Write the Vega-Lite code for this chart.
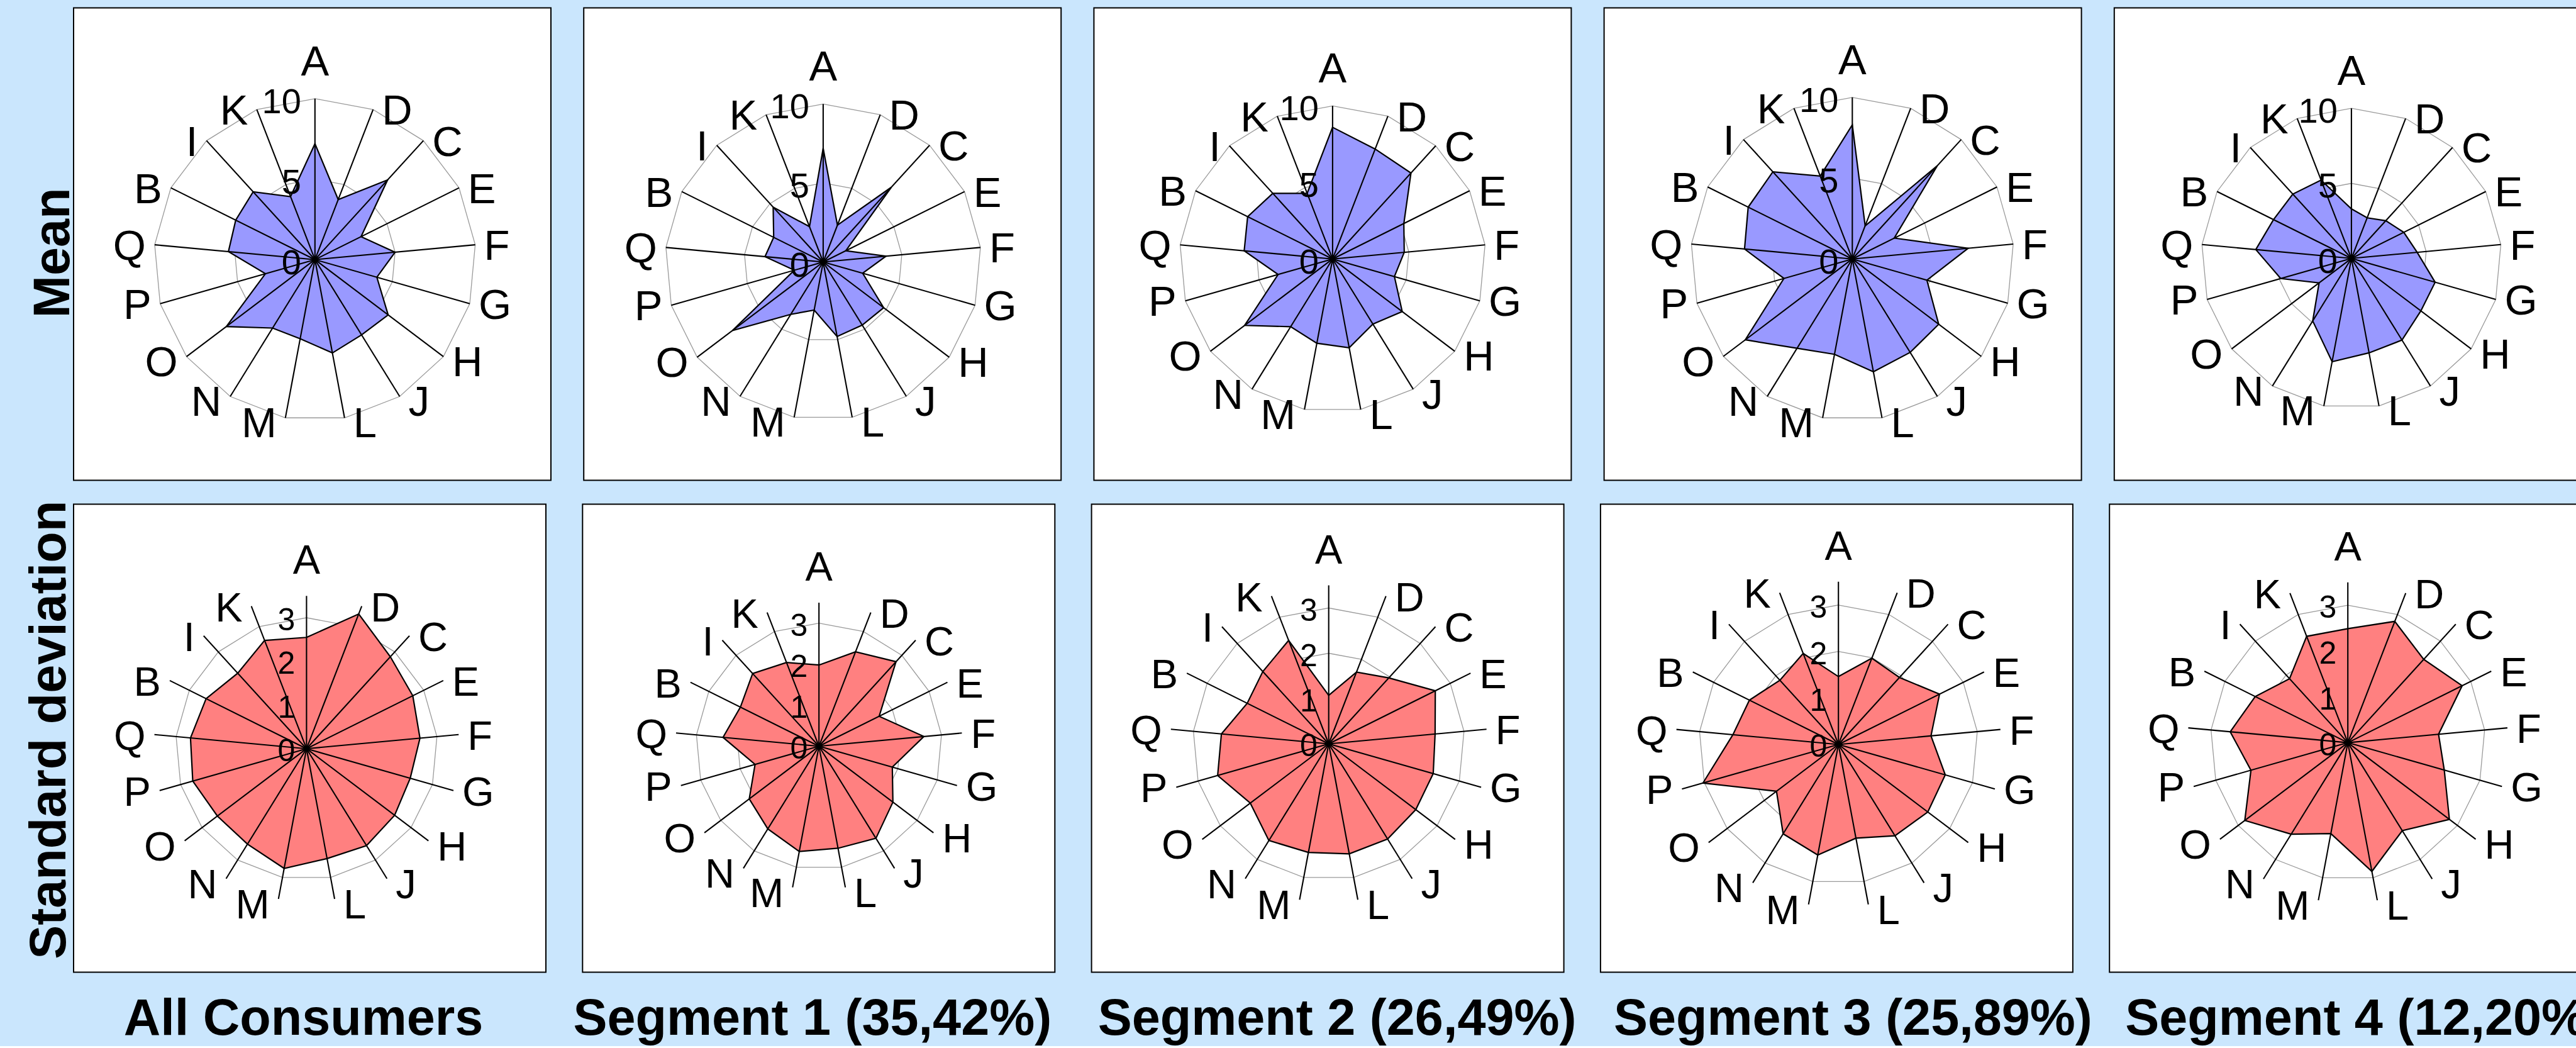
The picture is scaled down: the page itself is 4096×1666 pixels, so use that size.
{
  "$schema": "https://vega.github.io/schema/vega-lite/v6.json",
  "background": "#CAE6FD",
  "padding": {"left": 38, "top": 11.5, "right": 0, "bottom": 0},
  "datasets": {
    "spokes": [
      {"axis": "A", "i": 0}, {"axis": "D", "i": 1}, {"axis": "C", "i": 2}, {"axis": "E", "i": 3},
      {"axis": "F", "i": 4}, {"axis": "G", "i": 5}, {"axis": "H", "i": 6}, {"axis": "J", "i": 7},
      {"axis": "L", "i": 8}, {"axis": "M", "i": 9}, {"axis": "N", "i": 10}, {"axis": "O", "i": 11},
      {"axis": "P", "i": 12}, {"axis": "Q", "i": 13}, {"axis": "B", "i": 14}, {"axis": "I", "i": 15},
      {"axis": "K", "i": 16}
    ],
    "meanTicks": [{"tick": 0}, {"tick": 5}, {"tick": 10}],
    "sdTicks": [{"tick": 0}, {"tick": 1}, {"tick": 2}, {"tick": 3}],
    "scores": [
      {"group": "All Consumers", "axis": "A", "mean": 7.2, "sd": 2.55},
      {"group": "All Consumers", "axis": "D", "mean": 4.0, "sd": 3.31},
      {"group": "All Consumers", "axis": "C", "mean": 6.7, "sd": 2.85},
      {"group": "All Consumers", "axis": "E", "mean": 3.2, "sd": 2.72},
      {"group": "All Consumers", "axis": "F", "mean": 5.0, "sd": 2.61},
      {"group": "All Consumers", "axis": "G", "mean": 4.0, "sd": 2.47},
      {"group": "All Consumers", "axis": "H", "mean": 5.7, "sd": 2.53},
      {"group": "All Consumers", "axis": "J", "mean": 5.5, "sd": 2.61},
      {"group": "All Consumers", "axis": "L", "mean": 5.9, "sd": 2.56},
      {"group": "All Consumers", "axis": "M", "mean": 5.0, "sd": 2.79},
      {"group": "All Consumers", "axis": "N", "mean": 5.0, "sd": 2.57},
      {"group": "All Consumers", "axis": "O", "mean": 6.9, "sd": 2.56},
      {"group": "All Consumers", "axis": "P", "mean": 3.2, "sd": 2.71},
      {"group": "All Consumers", "axis": "Q", "mean": 5.4, "sd": 2.67},
      {"group": "All Consumers", "axis": "B", "mean": 5.5, "sd": 2.57},
      {"group": "All Consumers", "axis": "I", "mean": 5.7, "sd": 2.34},
      {"group": "All Consumers", "axis": "K", "mean": 4.2, "sd": 2.66},
      {"group": "Segment 1", "axis": "A", "mean": 7.2, "sd": 1.98},
      {"group": "Segment 1", "axis": "D", "mean": 2.5, "sd": 2.47},
      {"group": "Segment 1", "axis": "C", "mean": 6.4, "sd": 2.79},
      {"group": "Segment 1", "axis": "E", "mean": 1.6, "sd": 1.64},
      {"group": "Segment 1", "axis": "F", "mean": 4.0, "sd": 2.57},
      {"group": "Segment 1", "axis": "G", "mean": 2.6, "sd": 1.86},
      {"group": "Segment 1", "axis": "H", "mean": 4.8, "sd": 2.26},
      {"group": "Segment 1", "axis": "J", "mean": 4.7, "sd": 2.64},
      {"group": "Segment 1", "axis": "L", "mean": 4.8, "sd": 2.53},
      {"group": "Segment 1", "axis": "M", "mean": 3.1, "sd": 2.61},
      {"group": "Segment 1", "axis": "N", "mean": 3.9, "sd": 2.37},
      {"group": "Segment 1", "axis": "O", "mean": 7.2, "sd": 2.13},
      {"group": "Segment 1", "axis": "P", "mean": 1.9, "sd": 1.62},
      {"group": "Segment 1", "axis": "Q", "mean": 3.7, "sd": 2.35},
      {"group": "Segment 1", "axis": "B", "mean": 3.5, "sd": 2.14},
      {"group": "Segment 1", "axis": "I", "mean": 4.7, "sd": 2.40},
      {"group": "Segment 1", "axis": "K", "mean": 2.4, "sd": 2.19},
      {"group": "Segment 2", "axis": "A", "mean": 8.6, "sd": 1.07},
      {"group": "Segment 2", "axis": "D", "mean": 7.7, "sd": 1.70},
      {"group": "Segment 2", "axis": "C", "mean": 7.6, "sd": 1.97},
      {"group": "Segment 2", "axis": "E", "mean": 5.2, "sd": 2.63},
      {"group": "Segment 2", "axis": "F", "mean": 4.7, "sd": 2.36},
      {"group": "Segment 2", "axis": "G", "mean": 4.2, "sd": 2.40},
      {"group": "Segment 2", "axis": "H", "mean": 5.7, "sd": 2.41},
      {"group": "Segment 2", "axis": "J", "mean": 5.0, "sd": 2.47},
      {"group": "Segment 2", "axis": "L", "mean": 5.9, "sd": 2.47},
      {"group": "Segment 2", "axis": "M", "mean": 5.6, "sd": 2.44},
      {"group": "Segment 2", "axis": "N", "mean": 5.2, "sd": 2.51},
      {"group": "Segment 2", "axis": "O", "mean": 7.2, "sd": 2.17},
      {"group": "Segment 2", "axis": "P", "mean": 3.7, "sd": 2.55},
      {"group": "Segment 2", "axis": "Q", "mean": 5.8, "sd": 2.38},
      {"group": "Segment 2", "axis": "B", "mean": 6.2, "sd": 2.01},
      {"group": "Segment 2", "axis": "I", "mean": 5.8, "sd": 2.16},
      {"group": "Segment 2", "axis": "K", "mean": 4.6, "sd": 2.45},
      {"group": "Segment 3", "axis": "A", "mean": 8.3, "sd": 1.46},
      {"group": "Segment 3", "axis": "D", "mean": 2.2, "sd": 1.99},
      {"group": "Segment 3", "axis": "C", "mean": 7.8, "sd": 1.95},
      {"group": "Segment 3", "axis": "E", "mean": 2.9, "sd": 2.43},
      {"group": "Segment 3", "axis": "F", "mean": 7.2, "sd": 2.00},
      {"group": "Segment 3", "axis": "G", "mean": 4.8, "sd": 2.39},
      {"group": "Segment 3", "axis": "H", "mean": 6.7, "sd": 2.41},
      {"group": "Segment 3", "axis": "J", "mean": 6.8, "sd": 2.31},
      {"group": "Segment 3", "axis": "L", "mean": 7.1, "sd": 2.05},
      {"group": "Segment 3", "axis": "M", "mean": 6.0, "sd": 2.42},
      {"group": "Segment 3", "axis": "N", "mean": 6.5, "sd": 2.26},
      {"group": "Segment 3", "axis": "O", "mean": 8.3, "sd": 1.67},
      {"group": "Segment 3", "axis": "P", "mean": 4.4, "sd": 3.03},
      {"group": "Segment 3", "axis": "Q", "mean": 6.7, "sd": 2.28},
      {"group": "Segment 3", "axis": "B", "mean": 7.2, "sd": 2.14},
      {"group": "Segment 3", "axis": "I", "mean": 7.3, "sd": 1.87},
      {"group": "Segment 3", "axis": "K", "mean": 5.5, "sd": 2.10},
      {"group": "Segment 4", "axis": "A", "mean": 3.3, "sd": 2.49},
      {"group": "Segment 4", "axis": "D", "mean": 2.9, "sd": 2.84},
      {"group": "Segment 4", "axis": "C", "mean": 3.4, "sd": 2.46},
      {"group": "Segment 4", "axis": "E", "mean": 3.9, "sd": 2.79},
      {"group": "Segment 4", "axis": "F", "mean": 4.4, "sd": 1.99},
      {"group": "Segment 4", "axis": "G", "mean": 5.8, "sd": 2.19},
      {"group": "Segment 4", "axis": "H", "mean": 5.8, "sd": 2.78},
      {"group": "Segment 4", "axis": "J", "mean": 6.4, "sd": 2.26},
      {"group": "Segment 4", "axis": "L", "mean": 6.4, "sd": 2.86},
      {"group": "Segment 4", "axis": "M", "mean": 7.0, "sd": 2.02},
      {"group": "Segment 4", "axis": "N", "mean": 4.9, "sd": 2.35},
      {"group": "Segment 4", "axis": "O", "mean": 2.7, "sd": 2.82},
      {"group": "Segment 4", "axis": "P", "mean": 4.9, "sd": 2.20},
      {"group": "Segment 4", "axis": "Q", "mean": 6.4, "sd": 2.58},
      {"group": "Segment 4", "axis": "B", "mean": 5.8, "sd": 2.26},
      {"group": "Segment 4", "axis": "I", "mean": 5.8, "sd": 1.89},
      {"group": "Segment 4", "axis": "K", "mean": 5.6, "sd": 2.49}
    ]
  },
  "bounds": "full",
  "spacing": 31,
  "vconcat": [
    {
      "title": {"text": "Mean", "orient": "left", "anchor": "middle", "offset": -11, "dx": -14},
      "bounds": "flush",
      "spacing": 52.2,
      "hconcat": [
        {
          "width": 759, "height": 751,
          "encoding": {
            "x": {"field": "x", "type": "quantitative", "scale": {"domain": [-14.998, 14.662], "nice": false, "zero": false}, "axis": null},
            "y": {"field": "y", "type": "quantitative", "scale": {"domain": [-13.709, 15.639], "nice": false, "zero": false}, "axis": null}
          },
          "layer": [
            {"data": {"name": "spokes"}, "transform": [{"calculate": "5*sin(2*PI*datum.i/17)", "as": "x"}, {"calculate": "5*cos(2*PI*datum.i/17)", "as": "y"}], "mark": {"type": "line", "interpolate": "linear-closed", "stroke": "#9a9a9a", "strokeWidth": 1.3}, "encoding": {"order": {"field": "i", "type": "quantitative"}}},
            {"data": {"name": "spokes"}, "transform": [{"calculate": "10*sin(2*PI*datum.i/17)", "as": "x"}, {"calculate": "10*cos(2*PI*datum.i/17)", "as": "y"}], "mark": {"type": "line", "interpolate": "linear-closed", "stroke": "#9a9a9a", "strokeWidth": 1.3}, "encoding": {"order": {"field": "i", "type": "quantitative"}}},
            {"data": {"name": "scores"}, "transform": [{"filter": "datum.group === 'All Consumers'"}, {"lookup": "axis", "from": {"data": {"name": "spokes"}, "key": "axis", "fields": ["i"]}}, {"calculate": "datum.mean*sin(2*PI*datum.i/17)", "as": "x"}, {"calculate": "datum.mean*cos(2*PI*datum.i/17)", "as": "y"}], "mark": {"type": "line", "interpolate": "linear-closed", "fill": "#9999ff", "stroke": "black", "strokeWidth": 2.2}, "encoding": {"order": {"field": "i", "type": "quantitative"}}},
            {"data": {"name": "spokes"}, "transform": [{"calculate": "10*sin(2*PI*datum.i/17)", "as": "x"}, {"calculate": "10*cos(2*PI*datum.i/17)", "as": "y"}], "mark": {"type": "rule", "stroke": "black", "strokeWidth": 2.1}, "encoding": {"x2": {"datum": 0}, "y2": {"datum": 0}}},
            {"data": {"name": "spokes"}, "transform": [{"calculate": "10*sin(2*PI*datum.i/17)", "as": "x"}, {"calculate": "10*cos(2*PI*datum.i/17)", "as": "y"}], "mark": {"type": "text", "fontSize": 67, "align": {"expr": "datum.i == 0 ? 'center' : datum.i <= 8 ? 'left' : 'right'"}, "baseline": {"expr": "datum.i == 0 ? 'alphabetic' : 'middle'"}, "dx": {"expr": "datum.i == 0 ? 0 : datum.i <= 8 ? 14 : -14"}, "dy": {"expr": "datum.i == 0 ? -37 : (datum.i >= 6 && datum.i <= 11) ? 11 : 4"}}, "encoding": {"text": {"field": "axis", "type": "nominal"}}},
            {"data": {"name": "meanTicks"}, "transform": [{"calculate": "0", "as": "x"}, {"calculate": "datum.tick", "as": "y"}], "mark": {"type": "text", "fontSize": 56, "align": "right", "baseline": "middle", "dx": -22, "dy": 6}, "encoding": {"text": {"field": "tick", "type": "nominal"}}}
          ]
        },
        {
          "width": 759, "height": 751,
          "encoding": {
            "x": {"field": "x", "type": "quantitative", "scale": {"domain": [-15.161, 15.066], "nice": false, "zero": false}, "axis": null},
            "y": {"field": "y", "type": "quantitative", "scale": {"domain": [-13.819, 16.089], "nice": false, "zero": false}, "axis": null}
          },
          "layer": [
            {"data": {"name": "spokes"}, "transform": [{"calculate": "5*sin(2*PI*datum.i/17)", "as": "x"}, {"calculate": "5*cos(2*PI*datum.i/17)", "as": "y"}], "mark": {"type": "line", "interpolate": "linear-closed", "stroke": "#9a9a9a", "strokeWidth": 1.3}, "encoding": {"order": {"field": "i", "type": "quantitative"}}},
            {"data": {"name": "spokes"}, "transform": [{"calculate": "10*sin(2*PI*datum.i/17)", "as": "x"}, {"calculate": "10*cos(2*PI*datum.i/17)", "as": "y"}], "mark": {"type": "line", "interpolate": "linear-closed", "stroke": "#9a9a9a", "strokeWidth": 1.3}, "encoding": {"order": {"field": "i", "type": "quantitative"}}},
            {"data": {"name": "scores"}, "transform": [{"filter": "datum.group === 'Segment 1'"}, {"lookup": "axis", "from": {"data": {"name": "spokes"}, "key": "axis", "fields": ["i"]}}, {"calculate": "datum.mean*sin(2*PI*datum.i/17)", "as": "x"}, {"calculate": "datum.mean*cos(2*PI*datum.i/17)", "as": "y"}], "mark": {"type": "line", "interpolate": "linear-closed", "fill": "#9999ff", "stroke": "black", "strokeWidth": 2.2}, "encoding": {"order": {"field": "i", "type": "quantitative"}}},
            {"data": {"name": "spokes"}, "transform": [{"calculate": "10*sin(2*PI*datum.i/17)", "as": "x"}, {"calculate": "10*cos(2*PI*datum.i/17)", "as": "y"}], "mark": {"type": "rule", "stroke": "black", "strokeWidth": 2.1}, "encoding": {"x2": {"datum": 0}, "y2": {"datum": 0}}},
            {"data": {"name": "spokes"}, "transform": [{"calculate": "10*sin(2*PI*datum.i/17)", "as": "x"}, {"calculate": "10*cos(2*PI*datum.i/17)", "as": "y"}], "mark": {"type": "text", "fontSize": 67, "align": {"expr": "datum.i == 0 ? 'center' : datum.i <= 8 ? 'left' : 'right'"}, "baseline": {"expr": "datum.i == 0 ? 'alphabetic' : 'middle'"}, "dx": {"expr": "datum.i == 0 ? 0 : datum.i <= 8 ? 14 : -14"}, "dy": {"expr": "datum.i == 0 ? -37 : (datum.i >= 6 && datum.i <= 11) ? 11 : 4"}}, "encoding": {"text": {"field": "axis", "type": "nominal"}}},
            {"data": {"name": "meanTicks"}, "transform": [{"calculate": "0", "as": "x"}, {"calculate": "datum.tick", "as": "y"}], "mark": {"type": "text", "fontSize": 56, "align": "right", "baseline": "middle", "dx": -22, "dy": 6}, "encoding": {"text": {"field": "tick", "type": "nominal"}}}
          ]
        },
        {
          "width": 759, "height": 751,
          "encoding": {
            "x": {"field": "x", "type": "quantitative", "scale": {"domain": [-15.592, 15.592], "nice": false, "zero": false}, "axis": null},
            "y": {"field": "y", "type": "quantitative", "scale": {"domain": [-14.454, 16.401], "nice": false, "zero": false}, "axis": null}
          },
          "layer": [
            {"data": {"name": "spokes"}, "transform": [{"calculate": "5*sin(2*PI*datum.i/17)", "as": "x"}, {"calculate": "5*cos(2*PI*datum.i/17)", "as": "y"}], "mark": {"type": "line", "interpolate": "linear-closed", "stroke": "#9a9a9a", "strokeWidth": 1.3}, "encoding": {"order": {"field": "i", "type": "quantitative"}}},
            {"data": {"name": "spokes"}, "transform": [{"calculate": "10*sin(2*PI*datum.i/17)", "as": "x"}, {"calculate": "10*cos(2*PI*datum.i/17)", "as": "y"}], "mark": {"type": "line", "interpolate": "linear-closed", "stroke": "#9a9a9a", "strokeWidth": 1.3}, "encoding": {"order": {"field": "i", "type": "quantitative"}}},
            {"data": {"name": "scores"}, "transform": [{"filter": "datum.group === 'Segment 2'"}, {"lookup": "axis", "from": {"data": {"name": "spokes"}, "key": "axis", "fields": ["i"]}}, {"calculate": "datum.mean*sin(2*PI*datum.i/17)", "as": "x"}, {"calculate": "datum.mean*cos(2*PI*datum.i/17)", "as": "y"}], "mark": {"type": "line", "interpolate": "linear-closed", "fill": "#9999ff", "stroke": "black", "strokeWidth": 2.2}, "encoding": {"order": {"field": "i", "type": "quantitative"}}},
            {"data": {"name": "spokes"}, "transform": [{"calculate": "10*sin(2*PI*datum.i/17)", "as": "x"}, {"calculate": "10*cos(2*PI*datum.i/17)", "as": "y"}], "mark": {"type": "rule", "stroke": "black", "strokeWidth": 2.1}, "encoding": {"x2": {"datum": 0}, "y2": {"datum": 0}}},
            {"data": {"name": "spokes"}, "transform": [{"calculate": "10*sin(2*PI*datum.i/17)", "as": "x"}, {"calculate": "10*cos(2*PI*datum.i/17)", "as": "y"}], "mark": {"type": "text", "fontSize": 67, "align": {"expr": "datum.i == 0 ? 'center' : datum.i <= 8 ? 'left' : 'right'"}, "baseline": {"expr": "datum.i == 0 ? 'alphabetic' : 'middle'"}, "dx": {"expr": "datum.i == 0 ? 0 : datum.i <= 8 ? 14 : -14"}, "dy": {"expr": "datum.i == 0 ? -37 : (datum.i >= 6 && datum.i <= 11) ? 11 : 4"}}, "encoding": {"text": {"field": "axis", "type": "nominal"}}},
            {"data": {"name": "meanTicks"}, "transform": [{"calculate": "0", "as": "x"}, {"calculate": "datum.tick", "as": "y"}], "mark": {"type": "text", "fontSize": 56, "align": "right", "baseline": "middle", "dx": -22, "dy": 6}, "encoding": {"text": {"field": "tick", "type": "nominal"}}}
          ]
        },
        {
          "width": 759, "height": 751,
          "encoding": {
            "x": {"field": "x", "type": "quantitative", "scale": {"domain": [-15.364, 14.181], "nice": false, "zero": false}, "axis": null},
            "y": {"field": "y", "type": "quantitative", "scale": {"domain": [-13.694, 15.539], "nice": false, "zero": false}, "axis": null}
          },
          "layer": [
            {"data": {"name": "spokes"}, "transform": [{"calculate": "5*sin(2*PI*datum.i/17)", "as": "x"}, {"calculate": "5*cos(2*PI*datum.i/17)", "as": "y"}], "mark": {"type": "line", "interpolate": "linear-closed", "stroke": "#9a9a9a", "strokeWidth": 1.3}, "encoding": {"order": {"field": "i", "type": "quantitative"}}},
            {"data": {"name": "spokes"}, "transform": [{"calculate": "10*sin(2*PI*datum.i/17)", "as": "x"}, {"calculate": "10*cos(2*PI*datum.i/17)", "as": "y"}], "mark": {"type": "line", "interpolate": "linear-closed", "stroke": "#9a9a9a", "strokeWidth": 1.3}, "encoding": {"order": {"field": "i", "type": "quantitative"}}},
            {"data": {"name": "scores"}, "transform": [{"filter": "datum.group === 'Segment 3'"}, {"lookup": "axis", "from": {"data": {"name": "spokes"}, "key": "axis", "fields": ["i"]}}, {"calculate": "datum.mean*sin(2*PI*datum.i/17)", "as": "x"}, {"calculate": "datum.mean*cos(2*PI*datum.i/17)", "as": "y"}], "mark": {"type": "line", "interpolate": "linear-closed", "fill": "#9999ff", "stroke": "black", "strokeWidth": 2.2}, "encoding": {"order": {"field": "i", "type": "quantitative"}}},
            {"data": {"name": "spokes"}, "transform": [{"calculate": "10*sin(2*PI*datum.i/17)", "as": "x"}, {"calculate": "10*cos(2*PI*datum.i/17)", "as": "y"}], "mark": {"type": "rule", "stroke": "black", "strokeWidth": 2.1}, "encoding": {"x2": {"datum": 0}, "y2": {"datum": 0}}},
            {"data": {"name": "spokes"}, "transform": [{"calculate": "10*sin(2*PI*datum.i/17)", "as": "x"}, {"calculate": "10*cos(2*PI*datum.i/17)", "as": "y"}], "mark": {"type": "text", "fontSize": 67, "align": {"expr": "datum.i == 0 ? 'center' : datum.i <= 8 ? 'left' : 'right'"}, "baseline": {"expr": "datum.i == 0 ? 'alphabetic' : 'middle'"}, "dx": {"expr": "datum.i == 0 ? 0 : datum.i <= 8 ? 14 : -14"}, "dy": {"expr": "datum.i == 0 ? -37 : (datum.i >= 6 && datum.i <= 11) ? 11 : 4"}}, "encoding": {"text": {"field": "axis", "type": "nominal"}}},
            {"data": {"name": "meanTicks"}, "transform": [{"calculate": "0", "as": "x"}, {"calculate": "datum.tick", "as": "y"}], "mark": {"type": "text", "fontSize": 56, "align": "right", "baseline": "middle", "dx": -22, "dy": 6}, "encoding": {"text": {"field": "tick", "type": "nominal"}}}
          ]
        },
        {
          "width": 759, "height": 751,
          "encoding": {
            "x": {"field": "x", "type": "quantitative", "scale": {"domain": [-15.805, 16.006], "nice": false, "zero": false}, "axis": null},
            "y": {"field": "y", "type": "quantitative", "scale": {"domain": [-14.782, 16.693], "nice": false, "zero": false}, "axis": null}
          },
          "layer": [
            {"data": {"name": "spokes"}, "transform": [{"calculate": "5*sin(2*PI*datum.i/17)", "as": "x"}, {"calculate": "5*cos(2*PI*datum.i/17)", "as": "y"}], "mark": {"type": "line", "interpolate": "linear-closed", "stroke": "#9a9a9a", "strokeWidth": 1.3}, "encoding": {"order": {"field": "i", "type": "quantitative"}}},
            {"data": {"name": "spokes"}, "transform": [{"calculate": "10*sin(2*PI*datum.i/17)", "as": "x"}, {"calculate": "10*cos(2*PI*datum.i/17)", "as": "y"}], "mark": {"type": "line", "interpolate": "linear-closed", "stroke": "#9a9a9a", "strokeWidth": 1.3}, "encoding": {"order": {"field": "i", "type": "quantitative"}}},
            {"data": {"name": "scores"}, "transform": [{"filter": "datum.group === 'Segment 4'"}, {"lookup": "axis", "from": {"data": {"name": "spokes"}, "key": "axis", "fields": ["i"]}}, {"calculate": "datum.mean*sin(2*PI*datum.i/17)", "as": "x"}, {"calculate": "datum.mean*cos(2*PI*datum.i/17)", "as": "y"}], "mark": {"type": "line", "interpolate": "linear-closed", "fill": "#9999ff", "stroke": "black", "strokeWidth": 2.2}, "encoding": {"order": {"field": "i", "type": "quantitative"}}},
            {"data": {"name": "spokes"}, "transform": [{"calculate": "10*sin(2*PI*datum.i/17)", "as": "x"}, {"calculate": "10*cos(2*PI*datum.i/17)", "as": "y"}], "mark": {"type": "rule", "stroke": "black", "strokeWidth": 2.1}, "encoding": {"x2": {"datum": 0}, "y2": {"datum": 0}}},
            {"data": {"name": "spokes"}, "transform": [{"calculate": "10*sin(2*PI*datum.i/17)", "as": "x"}, {"calculate": "10*cos(2*PI*datum.i/17)", "as": "y"}], "mark": {"type": "text", "fontSize": 67, "align": {"expr": "datum.i == 0 ? 'center' : datum.i <= 8 ? 'left' : 'right'"}, "baseline": {"expr": "datum.i == 0 ? 'alphabetic' : 'middle'"}, "dx": {"expr": "datum.i == 0 ? 0 : datum.i <= 8 ? 14 : -14"}, "dy": {"expr": "datum.i == 0 ? -37 : (datum.i >= 6 && datum.i <= 11) ? 11 : 4"}}, "encoding": {"text": {"field": "axis", "type": "nominal"}}},
            {"data": {"name": "meanTicks"}, "transform": [{"calculate": "0", "as": "x"}, {"calculate": "datum.tick", "as": "y"}], "mark": {"type": "text", "fontSize": 56, "align": "right", "baseline": "middle", "dx": -22, "dy": 6}, "encoding": {"text": {"field": "tick", "type": "nominal"}}}
          ]
        }
      ]
    },
    {
      "title": {"text": "Standard deviation", "orient": "left", "anchor": "middle", "offset": -4.5, "dx": 71},
      "bounds": "flush",
      "spacing": 58.3,
      "hconcat": [
        {
          "width": 751, "height": 744,
          "title": {"text": "All Consumers", "orient": "bottom", "anchor": "middle", "offset": 35.5, "dx": -10},
          "encoding": {
            "x": {"field": "x", "type": "quantitative", "scale": {"domain": [-5.337, 5.484], "nice": false, "zero": false}, "axis": null},
            "y": {"field": "y", "type": "quantitative", "scale": {"domain": [-5.120, 5.601], "nice": false, "zero": false}, "axis": null}
          },
          "layer": [
            {"data": {"name": "spokes"}, "transform": [{"calculate": "1*sin(2*PI*datum.i/17)", "as": "x"}, {"calculate": "1*cos(2*PI*datum.i/17)", "as": "y"}], "mark": {"type": "line", "interpolate": "linear-closed", "stroke": "#9a9a9a", "strokeWidth": 1.3}, "encoding": {"order": {"field": "i", "type": "quantitative"}}},
            {"data": {"name": "spokes"}, "transform": [{"calculate": "2*sin(2*PI*datum.i/17)", "as": "x"}, {"calculate": "2*cos(2*PI*datum.i/17)", "as": "y"}], "mark": {"type": "line", "interpolate": "linear-closed", "stroke": "#9a9a9a", "strokeWidth": 1.3}, "encoding": {"order": {"field": "i", "type": "quantitative"}}},
            {"data": {"name": "spokes"}, "transform": [{"calculate": "3*sin(2*PI*datum.i/17)", "as": "x"}, {"calculate": "3*cos(2*PI*datum.i/17)", "as": "y"}], "mark": {"type": "line", "interpolate": "linear-closed", "stroke": "#9a9a9a", "strokeWidth": 1.3}, "encoding": {"order": {"field": "i", "type": "quantitative"}}},
            {"data": {"name": "scores"}, "transform": [{"filter": "datum.group === 'All Consumers'"}, {"lookup": "axis", "from": {"data": {"name": "spokes"}, "key": "axis", "fields": ["i"]}}, {"calculate": "datum.sd*sin(2*PI*datum.i/17)", "as": "x"}, {"calculate": "datum.sd*cos(2*PI*datum.i/17)", "as": "y"}], "mark": {"type": "line", "interpolate": "linear-closed", "fill": "#ff8080", "stroke": "black", "strokeWidth": 2.2}, "encoding": {"order": {"field": "i", "type": "quantitative"}}},
            {"data": {"name": "spokes"}, "transform": [{"calculate": "3.5*sin(2*PI*datum.i/17)", "as": "x"}, {"calculate": "3.5*cos(2*PI*datum.i/17)", "as": "y"}], "mark": {"type": "rule", "stroke": "black", "strokeWidth": 2.1}, "encoding": {"x2": {"datum": 0}, "y2": {"datum": 0}}},
            {"data": {"name": "spokes"}, "transform": [{"calculate": "3.5*sin(2*PI*datum.i/17)", "as": "x"}, {"calculate": "3.5*cos(2*PI*datum.i/17)", "as": "y"}], "mark": {"type": "text", "fontSize": 65, "align": {"expr": "datum.i == 0 ? 'center' : datum.i <= 8 ? 'left' : 'right'"}, "baseline": {"expr": "datum.i == 0 ? 'alphabetic' : 'middle'"}, "dx": {"expr": "datum.i == 0 ? 0 : datum.i <= 8 ? 14 : -14"}, "dy": {"expr": "datum.i == 0 ? -35 : (datum.i >= 6 && datum.i <= 11) ? 11 : 4"}}, "encoding": {"text": {"field": "axis", "type": "nominal"}}},
            {"data": {"name": "sdTicks"}, "transform": [{"calculate": "0", "as": "x"}, {"calculate": "datum.tick", "as": "y"}], "mark": {"type": "text", "fontSize": 50, "align": "right", "baseline": "middle", "dx": -18, "dy": 5}, "encoding": {"text": {"field": "tick", "type": "nominal"}}}
          ]
        },
        {
          "width": 751, "height": 744,
          "title": {"text": "Segment 1 (35,42%)", "orient": "bottom", "anchor": "middle", "offset": 35.5, "dx": -10},
          "encoding": {
            "x": {"field": "x", "type": "quantitative", "scale": {"domain": [-5.765, 5.753], "nice": false, "zero": false}, "axis": null},
            "y": {"field": "y", "type": "quantitative", "scale": {"domain": [-5.509, 5.902], "nice": false, "zero": false}, "axis": null}
          },
          "layer": [
            {"data": {"name": "spokes"}, "transform": [{"calculate": "1*sin(2*PI*datum.i/17)", "as": "x"}, {"calculate": "1*cos(2*PI*datum.i/17)", "as": "y"}], "mark": {"type": "line", "interpolate": "linear-closed", "stroke": "#9a9a9a", "strokeWidth": 1.3}, "encoding": {"order": {"field": "i", "type": "quantitative"}}},
            {"data": {"name": "spokes"}, "transform": [{"calculate": "2*sin(2*PI*datum.i/17)", "as": "x"}, {"calculate": "2*cos(2*PI*datum.i/17)", "as": "y"}], "mark": {"type": "line", "interpolate": "linear-closed", "stroke": "#9a9a9a", "strokeWidth": 1.3}, "encoding": {"order": {"field": "i", "type": "quantitative"}}},
            {"data": {"name": "spokes"}, "transform": [{"calculate": "3*sin(2*PI*datum.i/17)", "as": "x"}, {"calculate": "3*cos(2*PI*datum.i/17)", "as": "y"}], "mark": {"type": "line", "interpolate": "linear-closed", "stroke": "#9a9a9a", "strokeWidth": 1.3}, "encoding": {"order": {"field": "i", "type": "quantitative"}}},
            {"data": {"name": "scores"}, "transform": [{"filter": "datum.group === 'Segment 1'"}, {"lookup": "axis", "from": {"data": {"name": "spokes"}, "key": "axis", "fields": ["i"]}}, {"calculate": "datum.sd*sin(2*PI*datum.i/17)", "as": "x"}, {"calculate": "datum.sd*cos(2*PI*datum.i/17)", "as": "y"}], "mark": {"type": "line", "interpolate": "linear-closed", "fill": "#ff8080", "stroke": "black", "strokeWidth": 2.2}, "encoding": {"order": {"field": "i", "type": "quantitative"}}},
            {"data": {"name": "spokes"}, "transform": [{"calculate": "3.5*sin(2*PI*datum.i/17)", "as": "x"}, {"calculate": "3.5*cos(2*PI*datum.i/17)", "as": "y"}], "mark": {"type": "rule", "stroke": "black", "strokeWidth": 2.1}, "encoding": {"x2": {"datum": 0}, "y2": {"datum": 0}}},
            {"data": {"name": "spokes"}, "transform": [{"calculate": "3.5*sin(2*PI*datum.i/17)", "as": "x"}, {"calculate": "3.5*cos(2*PI*datum.i/17)", "as": "y"}], "mark": {"type": "text", "fontSize": 65, "align": {"expr": "datum.i == 0 ? 'center' : datum.i <= 8 ? 'left' : 'right'"}, "baseline": {"expr": "datum.i == 0 ? 'alphabetic' : 'middle'"}, "dx": {"expr": "datum.i == 0 ? 0 : datum.i <= 8 ? 14 : -14"}, "dy": {"expr": "datum.i == 0 ? -35 : (datum.i >= 6 && datum.i <= 11) ? 11 : 4"}}, "encoding": {"text": {"field": "axis", "type": "nominal"}}},
            {"data": {"name": "sdTicks"}, "transform": [{"calculate": "0", "as": "x"}, {"calculate": "datum.tick", "as": "y"}], "mark": {"type": "text", "fontSize": 50, "align": "right", "baseline": "middle", "dx": -18, "dy": 5}, "encoding": {"text": {"field": "tick", "type": "nominal"}}}
          ]
        },
        {
          "width": 751, "height": 744,
          "title": {"text": "Segment 2 (26,49%)", "orient": "bottom", "anchor": "middle", "offset": 35.5, "dx": 15},
          "encoding": {
            "x": {"field": "x", "type": "quantitative", "scale": {"domain": [-5.238, 5.193], "nice": false, "zero": false}, "axis": null},
            "y": {"field": "y", "type": "quantitative", "scale": {"domain": [-5.042, 5.292], "nice": false, "zero": false}, "axis": null}
          },
          "layer": [
            {"data": {"name": "spokes"}, "transform": [{"calculate": "1*sin(2*PI*datum.i/17)", "as": "x"}, {"calculate": "1*cos(2*PI*datum.i/17)", "as": "y"}], "mark": {"type": "line", "interpolate": "linear-closed", "stroke": "#9a9a9a", "strokeWidth": 1.3}, "encoding": {"order": {"field": "i", "type": "quantitative"}}},
            {"data": {"name": "spokes"}, "transform": [{"calculate": "2*sin(2*PI*datum.i/17)", "as": "x"}, {"calculate": "2*cos(2*PI*datum.i/17)", "as": "y"}], "mark": {"type": "line", "interpolate": "linear-closed", "stroke": "#9a9a9a", "strokeWidth": 1.3}, "encoding": {"order": {"field": "i", "type": "quantitative"}}},
            {"data": {"name": "spokes"}, "transform": [{"calculate": "3*sin(2*PI*datum.i/17)", "as": "x"}, {"calculate": "3*cos(2*PI*datum.i/17)", "as": "y"}], "mark": {"type": "line", "interpolate": "linear-closed", "stroke": "#9a9a9a", "strokeWidth": 1.3}, "encoding": {"order": {"field": "i", "type": "quantitative"}}},
            {"data": {"name": "scores"}, "transform": [{"filter": "datum.group === 'Segment 2'"}, {"lookup": "axis", "from": {"data": {"name": "spokes"}, "key": "axis", "fields": ["i"]}}, {"calculate": "datum.sd*sin(2*PI*datum.i/17)", "as": "x"}, {"calculate": "datum.sd*cos(2*PI*datum.i/17)", "as": "y"}], "mark": {"type": "line", "interpolate": "linear-closed", "fill": "#ff8080", "stroke": "black", "strokeWidth": 2.2}, "encoding": {"order": {"field": "i", "type": "quantitative"}}},
            {"data": {"name": "spokes"}, "transform": [{"calculate": "3.5*sin(2*PI*datum.i/17)", "as": "x"}, {"calculate": "3.5*cos(2*PI*datum.i/17)", "as": "y"}], "mark": {"type": "rule", "stroke": "black", "strokeWidth": 2.1}, "encoding": {"x2": {"datum": 0}, "y2": {"datum": 0}}},
            {"data": {"name": "spokes"}, "transform": [{"calculate": "3.5*sin(2*PI*datum.i/17)", "as": "x"}, {"calculate": "3.5*cos(2*PI*datum.i/17)", "as": "y"}], "mark": {"type": "text", "fontSize": 65, "align": {"expr": "datum.i == 0 ? 'center' : datum.i <= 8 ? 'left' : 'right'"}, "baseline": {"expr": "datum.i == 0 ? 'alphabetic' : 'middle'"}, "dx": {"expr": "datum.i == 0 ? 0 : datum.i <= 8 ? 14 : -14"}, "dy": {"expr": "datum.i == 0 ? -35 : (datum.i >= 6 && datum.i <= 11) ? 11 : 4"}}, "encoding": {"text": {"field": "axis", "type": "nominal"}}},
            {"data": {"name": "sdTicks"}, "transform": [{"calculate": "0", "as": "x"}, {"calculate": "datum.tick", "as": "y"}], "mark": {"type": "text", "fontSize": 50, "align": "right", "baseline": "middle", "dx": -18, "dy": 5}, "encoding": {"text": {"field": "tick", "type": "nominal"}}}
          ]
        },
        {
          "width": 751, "height": 744,
          "title": {"text": "Segment 3 (25,89%)", "orient": "bottom", "anchor": "middle", "offset": 35.5, "dx": 26},
          "encoding": {
            "x": {"field": "x", "type": "quantitative", "scale": {"domain": [-5.119, 5.043], "nice": false, "zero": false}, "axis": null},
            "y": {"field": "y", "type": "quantitative", "scale": {"domain": [-4.899, 5.169], "nice": false, "zero": false}, "axis": null}
          },
          "layer": [
            {"data": {"name": "spokes"}, "transform": [{"calculate": "1*sin(2*PI*datum.i/17)", "as": "x"}, {"calculate": "1*cos(2*PI*datum.i/17)", "as": "y"}], "mark": {"type": "line", "interpolate": "linear-closed", "stroke": "#9a9a9a", "strokeWidth": 1.3}, "encoding": {"order": {"field": "i", "type": "quantitative"}}},
            {"data": {"name": "spokes"}, "transform": [{"calculate": "2*sin(2*PI*datum.i/17)", "as": "x"}, {"calculate": "2*cos(2*PI*datum.i/17)", "as": "y"}], "mark": {"type": "line", "interpolate": "linear-closed", "stroke": "#9a9a9a", "strokeWidth": 1.3}, "encoding": {"order": {"field": "i", "type": "quantitative"}}},
            {"data": {"name": "spokes"}, "transform": [{"calculate": "3*sin(2*PI*datum.i/17)", "as": "x"}, {"calculate": "3*cos(2*PI*datum.i/17)", "as": "y"}], "mark": {"type": "line", "interpolate": "linear-closed", "stroke": "#9a9a9a", "strokeWidth": 1.3}, "encoding": {"order": {"field": "i", "type": "quantitative"}}},
            {"data": {"name": "scores"}, "transform": [{"filter": "datum.group === 'Segment 3'"}, {"lookup": "axis", "from": {"data": {"name": "spokes"}, "key": "axis", "fields": ["i"]}}, {"calculate": "datum.sd*sin(2*PI*datum.i/17)", "as": "x"}, {"calculate": "datum.sd*cos(2*PI*datum.i/17)", "as": "y"}], "mark": {"type": "line", "interpolate": "linear-closed", "fill": "#ff8080", "stroke": "black", "strokeWidth": 2.2}, "encoding": {"order": {"field": "i", "type": "quantitative"}}},
            {"data": {"name": "spokes"}, "transform": [{"calculate": "3.5*sin(2*PI*datum.i/17)", "as": "x"}, {"calculate": "3.5*cos(2*PI*datum.i/17)", "as": "y"}], "mark": {"type": "rule", "stroke": "black", "strokeWidth": 2.1}, "encoding": {"x2": {"datum": 0}, "y2": {"datum": 0}}},
            {"data": {"name": "spokes"}, "transform": [{"calculate": "3.5*sin(2*PI*datum.i/17)", "as": "x"}, {"calculate": "3.5*cos(2*PI*datum.i/17)", "as": "y"}], "mark": {"type": "text", "fontSize": 65, "align": {"expr": "datum.i == 0 ? 'center' : datum.i <= 8 ? 'left' : 'right'"}, "baseline": {"expr": "datum.i == 0 ? 'alphabetic' : 'middle'"}, "dx": {"expr": "datum.i == 0 ? 0 : datum.i <= 8 ? 14 : -14"}, "dy": {"expr": "datum.i == 0 ? -35 : (datum.i >= 6 && datum.i <= 11) ? 11 : 4"}}, "encoding": {"text": {"field": "axis", "type": "nominal"}}},
            {"data": {"name": "sdTicks"}, "transform": [{"calculate": "0", "as": "x"}, {"calculate": "datum.tick", "as": "y"}], "mark": {"type": "text", "fontSize": 50, "align": "right", "baseline": "middle", "dx": -18, "dy": 5}, "encoding": {"text": {"field": "tick", "type": "nominal"}}}
          ]
        },
        {
          "width": 751, "height": 744,
          "title": {"text": "Segment 4 (12,20%)", "orient": "bottom", "anchor": "middle", "offset": 35.5, "dx": 30},
          "encoding": {
            "x": {"field": "x", "type": "quantitative", "scale": {"domain": [-5.206, 5.110], "nice": false, "zero": false}, "axis": null},
            "y": {"field": "y", "type": "quantitative", "scale": {"domain": [-5.012, 5.207], "nice": false, "zero": false}, "axis": null}
          },
          "layer": [
            {"data": {"name": "spokes"}, "transform": [{"calculate": "1*sin(2*PI*datum.i/17)", "as": "x"}, {"calculate": "1*cos(2*PI*datum.i/17)", "as": "y"}], "mark": {"type": "line", "interpolate": "linear-closed", "stroke": "#9a9a9a", "strokeWidth": 1.3}, "encoding": {"order": {"field": "i", "type": "quantitative"}}},
            {"data": {"name": "spokes"}, "transform": [{"calculate": "2*sin(2*PI*datum.i/17)", "as": "x"}, {"calculate": "2*cos(2*PI*datum.i/17)", "as": "y"}], "mark": {"type": "line", "interpolate": "linear-closed", "stroke": "#9a9a9a", "strokeWidth": 1.3}, "encoding": {"order": {"field": "i", "type": "quantitative"}}},
            {"data": {"name": "spokes"}, "transform": [{"calculate": "3*sin(2*PI*datum.i/17)", "as": "x"}, {"calculate": "3*cos(2*PI*datum.i/17)", "as": "y"}], "mark": {"type": "line", "interpolate": "linear-closed", "stroke": "#9a9a9a", "strokeWidth": 1.3}, "encoding": {"order": {"field": "i", "type": "quantitative"}}},
            {"data": {"name": "scores"}, "transform": [{"filter": "datum.group === 'Segment 4'"}, {"lookup": "axis", "from": {"data": {"name": "spokes"}, "key": "axis", "fields": ["i"]}}, {"calculate": "datum.sd*sin(2*PI*datum.i/17)", "as": "x"}, {"calculate": "datum.sd*cos(2*PI*datum.i/17)", "as": "y"}], "mark": {"type": "line", "interpolate": "linear-closed", "fill": "#ff8080", "stroke": "black", "strokeWidth": 2.2}, "encoding": {"order": {"field": "i", "type": "quantitative"}}},
            {"data": {"name": "spokes"}, "transform": [{"calculate": "3.5*sin(2*PI*datum.i/17)", "as": "x"}, {"calculate": "3.5*cos(2*PI*datum.i/17)", "as": "y"}], "mark": {"type": "rule", "stroke": "black", "strokeWidth": 2.1}, "encoding": {"x2": {"datum": 0}, "y2": {"datum": 0}}},
            {"data": {"name": "spokes"}, "transform": [{"calculate": "3.5*sin(2*PI*datum.i/17)", "as": "x"}, {"calculate": "3.5*cos(2*PI*datum.i/17)", "as": "y"}], "mark": {"type": "text", "fontSize": 65, "align": {"expr": "datum.i == 0 ? 'center' : datum.i <= 8 ? 'left' : 'right'"}, "baseline": {"expr": "datum.i == 0 ? 'alphabetic' : 'middle'"}, "dx": {"expr": "datum.i == 0 ? 0 : datum.i <= 8 ? 14 : -14"}, "dy": {"expr": "datum.i == 0 ? -35 : (datum.i >= 6 && datum.i <= 11) ? 11 : 4"}}, "encoding": {"text": {"field": "axis", "type": "nominal"}}},
            {"data": {"name": "sdTicks"}, "transform": [{"calculate": "0", "as": "x"}, {"calculate": "datum.tick", "as": "y"}], "mark": {"type": "text", "fontSize": 50, "align": "right", "baseline": "middle", "dx": -18, "dy": 5}, "encoding": {"text": {"field": "tick", "type": "nominal"}}}
          ]
        }
      ]
    }
  ],
  "config": {
    "view": {"stroke": "black", "strokeWidth": 2, "fill": "white"},
    "font": "Liberation Sans",
    "text": {"font": "Liberation Sans", "color": "black"},
    "title": {"font": "Liberation Sans", "fontSize": 81, "fontWeight": "bold", "color": "black"}
  }
}
